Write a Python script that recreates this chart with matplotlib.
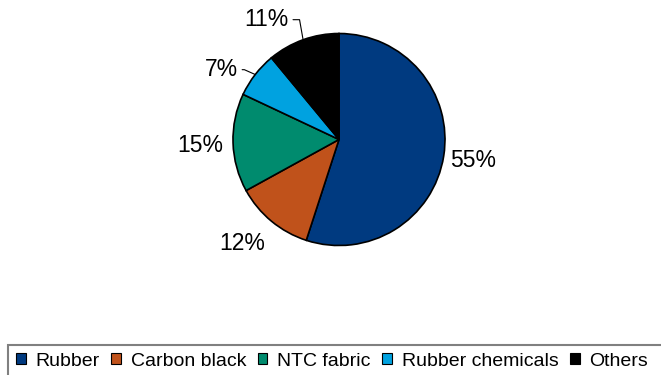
import numpy as np
import matplotlib
matplotlib.use("Agg")
import matplotlib.pyplot as plt
from matplotlib.patches import Patch, Rectangle

plt.rcParams['font.family'] = ['Liberation Sans', 'DejaVu Sans']

# raw material share of cost
materials = ["Rubber", "Carbon black", "NTC fabric", "Rubber chemicals", "Others"]
shares = [55, 12, 15, 7, 11]
colors = ["#003a80", "#c0521b", "#008b6e", "#00a2e0", "#000000"]

# label placement: (radius factor, angle tweak in deg, leader bend angle or None)
label_pos = [(1.28, 0.3, None), (1.34, -3.5, None), (1.31, 0.5, None),
             (1.29, 7.1, 156), (1.32, 11.3, 100)]

W, H = 661, 375
fig = plt.figure(figsize=(W / 100, H / 100), dpi=100)
ax = fig.add_axes([0, 0, 1, 1])

cx, cy, r = 339, H - 139.5, 106
wedges, _ = ax.pie(shares, colors=colors, startangle=90, counterclock=False,
                   center=(cx, cy), radius=r, frame=True,
                   wedgeprops=dict(edgecolor="black", linewidth=1.2))
ax.set_xlim(0, W)
ax.set_ylim(0, H)
ax.set_aspect("equal")
ax.axis("off")

for w, val, (rf, dang, bend) in zip(wedges, shares, label_pos):
    mid = np.deg2rad((w.theta1 + w.theta2) / 2)
    ang = mid + np.deg2rad(dang)
    tx, ty = cx + rf * r * np.cos(ang), cy + rf * r * np.sin(ang)
    if bend is not None:
        ex, ey = cx + r * np.cos(mid), cy + r * np.sin(mid)
        ax.annotate(f"{val}%", xy=(ex, ey), xytext=(tx, ty),
                    ha="center", va="center", fontsize=16.5,
                    arrowprops=dict(arrowstyle="-", lw=0.8, color="black",
                                    shrinkA=1, shrinkB=0,
                                    connectionstyle=f"angle,angleA=0,angleB={bend},rad=0"))
    else:
        ax.text(tx, ty, f"{val}%", ha="center", va="center", fontsize=16.5)

# legend strip along the bottom, box runs off the right/bottom edges
handles = [Patch(facecolor=c, edgecolor="black", linewidth=0.8) for c in colors]
leg = fig.legend(handles, materials, ncol=5, loc="upper left",
                 bbox_to_anchor=(8 / W, 1 - 345 / H), borderaxespad=0,
                 fontsize=14, frameon=False,
                 handlelength=0.5, handleheight=0.5, handletextpad=0.5,
                 columnspacing=0.6, borderpad=0.4)
fig.add_artist(Rectangle((8 / W, -0.1), 1.0, (H - 345) / H + 0.1,
                         transform=fig.transFigure, fill=False,
                         edgecolor="#808080", linewidth=1.5))

fig.savefig("out.png", dpi=100)
